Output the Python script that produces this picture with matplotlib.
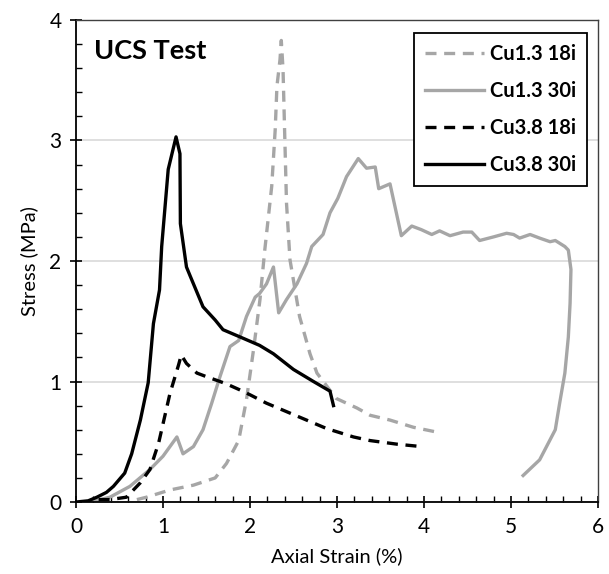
import matplotlib.pyplot as plt
from matplotlib.ticker import MultipleLocator

# UCS test curves, stress (MPa) vs axial strain (%)
cu13_18i_x = [0.70, 0.81, 1.08, 1.35, 1.60, 1.73, 1.87, 1.96, 2.04, 2.115, 2.17, 2.25, 2.29, 2.31,
              2.345, 2.36, 2.38, 2.40, 2.42, 2.46, 2.57, 2.69, 2.77, 2.99, 3.23, 3.38, 3.61, 3.88, 4.15]
cu13_18i_y = [0.02, 0.04, 0.10, 0.14, 0.20, 0.32, 0.51, 0.85, 1.26, 1.68, 2.09, 2.62, 3.09, 3.45,
              3.67, 3.83, 3.59, 3.03, 2.48, 2.01, 1.54, 1.23, 1.07, 0.86, 0.78, 0.72, 0.68, 0.62, 0.58]

cu13_30i_x = [0.16, 0.39, 0.62, 0.85, 1.00, 1.16, 1.23, 1.35, 1.46, 1.56, 1.655, 1.77, 1.87, 1.96,
              2.06, 2.11, 2.19, 2.27, 2.33, 2.42, 2.54, 2.65, 2.71, 2.84, 2.92, 3.01, 3.11, 3.245,
              3.34, 3.44, 3.48, 3.61, 3.74, 3.86, 3.97, 4.09, 4.18, 4.30, 4.45, 4.55, 4.64, 4.80,
              4.95, 5.03, 5.10, 5.22, 5.33, 5.45, 5.51, 5.62, 5.66, 5.69, 5.68, 5.66, 5.62, 5.56,
              5.51, 5.33, 5.14]
cu13_30i_y = [0.00, 0.04, 0.13, 0.27, 0.38, 0.54, 0.40, 0.46, 0.60, 0.82, 1.04, 1.29, 1.34, 1.54,
              1.70, 1.73, 1.81, 1.95, 1.57, 1.68, 1.81, 1.98, 2.12, 2.22, 2.40, 2.52, 2.70, 2.85,
              2.77, 2.78, 2.60, 2.64, 2.21, 2.29, 2.26, 2.22, 2.25, 2.21, 2.24, 2.24, 2.17, 2.20,
              2.23, 2.22, 2.19, 2.22, 2.19, 2.16, 2.17, 2.12, 2.09, 1.93, 1.65, 1.37, 1.07, 0.82,
              0.60, 0.35, 0.22]

cu38_18i_x = [0.26, 0.39, 0.58, 0.74, 0.85, 0.95, 1.08, 1.18, 1.21, 1.27, 1.39, 1.50, 1.655, 1.73,
              1.885, 2.00, 2.19, 2.42, 2.65, 2.88, 3.19, 3.38, 3.69, 3.97]
cu38_18i_y = [0.02, 0.02, 0.04, 0.16, 0.27, 0.49, 0.90, 1.14, 1.22, 1.15, 1.07, 1.04, 1.00, 0.98,
              0.93, 0.89, 0.82, 0.75, 0.68, 0.61, 0.54, 0.51, 0.48, 0.46]

cu38_30i_x = [0.00, 0.14, 0.24, 0.35, 0.43, 0.56, 0.64, 0.74, 0.83, 0.89, 0.96, 0.985, 1.06, 1.15,
              1.195, 1.20, 1.27, 1.31, 1.46, 1.60, 1.69, 1.885, 2.11, 2.27, 2.50, 2.73, 2.92, 2.96]
cu38_30i_y = [0.00, 0.01, 0.04, 0.08, 0.13, 0.24, 0.40, 0.68, 0.99, 1.48, 1.76, 2.12, 2.76, 3.03,
              2.89, 2.31, 1.95, 1.88, 1.62, 1.51, 1.43, 1.37, 1.30, 1.23, 1.10, 1.00, 0.92, 0.80]

plt.rcParams['font.family'] = ['Lato', 'DejaVu Sans']

gray = '#a6a6a6'
dash = (0, (3.3, 2.3))

fig = plt.figure(figsize=(6.09, 5.74), dpi=100)
ax = fig.add_axes([0.1248, 0.1254, 0.857, 0.8398])

ax.plot(cu13_18i_x, cu13_18i_y, color=gray, lw=2.4, linestyle=dash, label='Cu1.3 18i')
ax.plot(cu13_30i_x, cu13_30i_y, color=gray, lw=2.4, label='Cu1.3 30i')
ax.plot(cu38_18i_x, cu38_18i_y, color='black', lw=2.4, linestyle=dash, label='Cu3.8 18i')
ax.plot(cu38_30i_x, cu38_30i_y, color='black', lw=2.4, label='Cu3.8 30i')

ax.set_xlim(0, 6)
ax.set_ylim(0, 4)
ax.xaxis.set_major_locator(MultipleLocator(1))
ax.xaxis.set_minor_locator(MultipleLocator(0.2))
ax.yaxis.set_major_locator(MultipleLocator(1))
ax.yaxis.set_minor_locator(MultipleLocator(0.2))
ax.tick_params(which='major', direction='inout', length=9, width=1.2, labelsize=15, pad=6)
ax.tick_params(which='minor', direction='in', length=4, width=1)
ax.grid(True, axis='y', which='major', color='#d9d9d9', lw=1.2)
ax.set_axisbelow(True)

for side in ['left', 'bottom']:
    ax.spines[side].set_color('black')
    ax.spines[side].set_linewidth(1.3)
for side in ['top', 'right']:
    ax.spines[side].set_color('#404040')
    ax.spines[side].set_linewidth(1)

ax.set_xlabel('Axial Strain (%)', fontsize=14.5, labelpad=8)
ax.set_ylabel('Stress (MPa)', fontsize=14.5, labelpad=8)

ax.text(0.035, 0.96, 'UCS Test', transform=ax.transAxes, fontsize=19.5, fontweight='bold',
        va='top', ha='left')

leg = ax.legend(loc='upper right', bbox_to_anchor=(0.979, 0.973),
                prop={'weight': 'bold', 'size': 14.5}, handlelength=2.9, handletextpad=0.3,
                labelspacing=0.85, borderpad=0.55, borderaxespad=0, fancybox=False, framealpha=1)
leg.get_frame().set_edgecolor('black')
leg.get_frame().set_linewidth(1.3)

fig.savefig('out.png', dpi=100)
